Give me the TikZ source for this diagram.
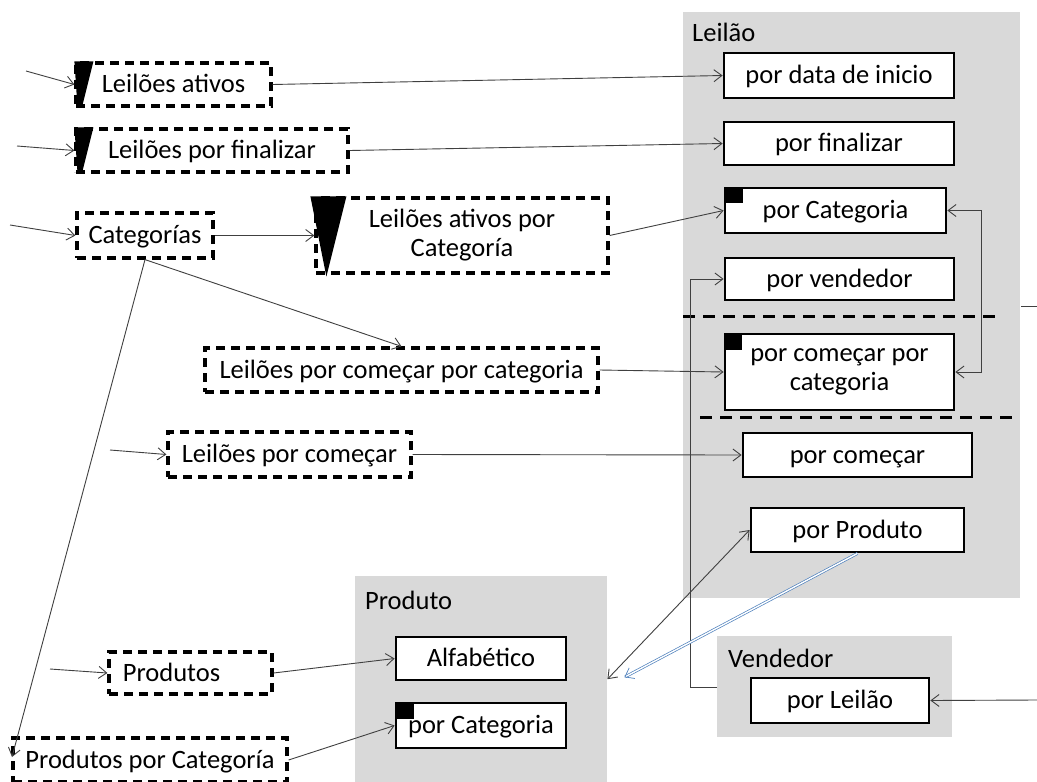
\documentclass[tikz,border=0pt]{standalone}
\usepackage{fontspec}
\setmainfont{Carlito}
\usetikzlibrary{arrows.meta,calc}
\definecolor{bggray}{RGB}{217,217,217}
\definecolor{lnblue}{RGB}{79,129,189}
\definecolor{lngray}{RGB}{64,64,64}
\begin{document}
\begin{tikzpicture}[x=1pt,y=-1pt,
  txt/.style={font=\fontsize{26.5}{29}\selectfont},
  oneline/.style={text height=20pt,text depth=4pt},
  gbg/.style={fill=bggray,draw=none,anchor=north west,inner sep=0pt},
  lbl/.style={txt,anchor=base west,inner sep=0pt},
  sbase/.style={txt,draw=black,line width=2.8pt,fill=white,inner sep=0pt,align=center},
  dbase/.style={txt,draw=black,line width=3.2pt,dash pattern=on 9pt off 6pt,fill=white,inner sep=0pt,align=center},
  sbox/.style={sbase,oneline},
  dbox/.style={dbase,oneline},
  sepline/.style={line width=3pt,dash pattern=on 12pt off 8pt},
  conn/.style={draw=lngray,line width=0.9pt,-{Straight Barb[length=8pt,width=12pt]}},
  biconn/.style={draw=lngray,line width=0.9pt,{Straight Barb[length=8pt,width=12pt]}-{Straight Barb[length=8pt,width=12pt]}},
  bconn/.style={draw=lnblue,line width=0.7pt,double=white,double distance=1.4pt,-{Straight Barb[length=8pt,width=12pt]}}
]
\useasboundingbox (0,0) rectangle (1037,782);
\fill[white] (0,0) rectangle (1037,782);

% background groups
\node[gbg,minimum width=337,minimum height=586] (leilaobg) at (683,12) {};
\node[lbl] (leilaolbl) at (692,41) {Leilão};
\node[gbg,minimum width=252,minimum height=206] (prodbg) at (355,576) {};
\node[lbl] (prodlbl) at (365,609) {Produto};
\node[gbg,minimum width=235,minimum height=101] (vendbg) at (717,636) {};
\node[lbl] (vendlbl) at (728,667) {Vendedor};

% separators
\draw[sepline] (683,316) -- (997,316);
\draw[sepline] (700,417) -- (1013,417);

% Leilão boxes
\node[sbox,minimum width=230,minimum height=45] (pdi) at (839,75.5) {por data de inicio};
\node[sbox,minimum width=230,minimum height=43] (pfin) at (839,143.5) {por finalizar};
\node[sbox,minimum width=221,minimum height=45] (pcat) at (835.5,210.5) {por Categoria};
\node[sbox,minimum width=229,minimum height=42] (pvend) at (839.5,279) {por vendedor};
\node[sbase,minimum width=229,minimum height=76] (pcpc) at (839.5,372) {por começar por\\categoria};
\node[sbox,minimum width=229,minimum height=44] (pcom) at (857.5,455) {por começar};
\node[sbox,minimum width=213,minimum height=44] (pprod) at (857.5,530) {por Produto};
\node[sbox,minimum width=178,minimum height=45] (pleil) at (840,700.5) {por Leilão};
% Produto boxes
\node[sbox,minimum width=170,minimum height=43] (alf) at (481,658.5) {Alfabético};
\node[sbox,minimum width=170,minimum height=45] (pcatp) at (481,725.5) {por Categoria};

% black squares
\fill (pcat.north west) rectangle ++(19,16);
\fill (pcpc.north west) rectangle ++(18,17);
\fill (pcatp.north west) rectangle ++(19,17);

% dashed boxes
\node[dbox,minimum width=195,minimum height=43] (la) at (173.5,84.5) {Leilões ativos};
\node[dbox,minimum width=272,minimum height=43] (lpf) at (212,150.5) {Leilões por finalizar};
\node[dbox,minimum width=136,minimum height=45] (cat) at (145,235.5) {Categorías};
\node[dbase,minimum width=292,minimum height=75] (lac) at (462,235.5) {Leilões ativos por\\Categoría};
\node[dbox,minimum width=393,minimum height=44] (lpcc) at (401.5,370) {Leilões por começar por categoria};
\node[dbox,minimum width=243,minimum height=45] (lpc) at (289.5,454.5) {Leilões por começar};
\node[dbox,minimum width=163,minimum height=42] (prods) at (190.5,673) {Produtos\hspace*{38pt}};
\node[dbox,minimum width=274,minimum height=44] (ppc) at (150,760) {Produtos por Categoría};

% wedges
\fill ($(la.north west)+(0,0)$) -- ++(19,0) -- ($(la.south west)+(8,-2)$) -- ($(la.south west)+(3,-2)$) -- cycle;
\fill ($(lpf.north west)+(0,0)$) -- ++(19,0) -- ($(lpf.south west)+(8,-2)$) -- ($(lpf.south west)+(3,-2)$) -- cycle;
\fill ($(lac.north west)+(-4,0)$) -- ++(36,0) -- ($(lac.south west)+(12,2)$) -- cycle;

% free ends
\coordinate (i1) at (26,71);
\coordinate (i2) at (17,146);
\coordinate (i3) at (10,225);
\coordinate (i4) at (110,450);
\coordinate (i5) at (50,669);
\coordinate (i6) at (1037,700);
\coordinate (i7) at (1021,306);
\coordinate (i8) at (1037,306);
\coordinate (ppcin) at (12,757);
\coordinate (vl) at (717,687);
\coordinate (vbend) at (690,687);

% connectors
\draw[conn] (i1) -- (la.west);
\draw[conn] (i2) -- (lpf.west);
\draw[conn] (i3) -- (cat.west);
\draw[conn] (i4) -- (lpc.west);
\draw[conn] (i5) -- (prods.west);
\draw[conn] (i6) -- (pleil.east);
\draw[draw=lngray,line width=0.9pt] (i7) -- (i8);
\draw[conn] (la.east) -- (pdi.west);
\draw[conn] (lpf.east) -- (pfin.west);
\draw[conn] (cat.east) -- (lac.west);
\draw[conn] (lac.east) -- (pcat.west);
\draw[conn] (cat.south) -- (lpcc.north);
\draw[conn] (cat.south) -- (ppcin);
\draw[conn] (lpcc.east) -- (pcpc.west);
\draw[conn] (lpc.east) -- (pcom.west);
\draw[conn] (prods.east) -- (alf.west);
\draw[conn] (ppc.east) -- (pcatp.west);
\draw[biconn] (pcat.east) -- ++(34,0) |- (pcpc.east);
\draw[conn] (vl) -- (vbend) |- (pvend.west);
\draw[biconn] (prodbg.east) -- (pprod.west);
\draw[bconn] (pprod.south) -- ($(prodbg.east)+(17,-2)$);
\end{tikzpicture}
\end{document}
